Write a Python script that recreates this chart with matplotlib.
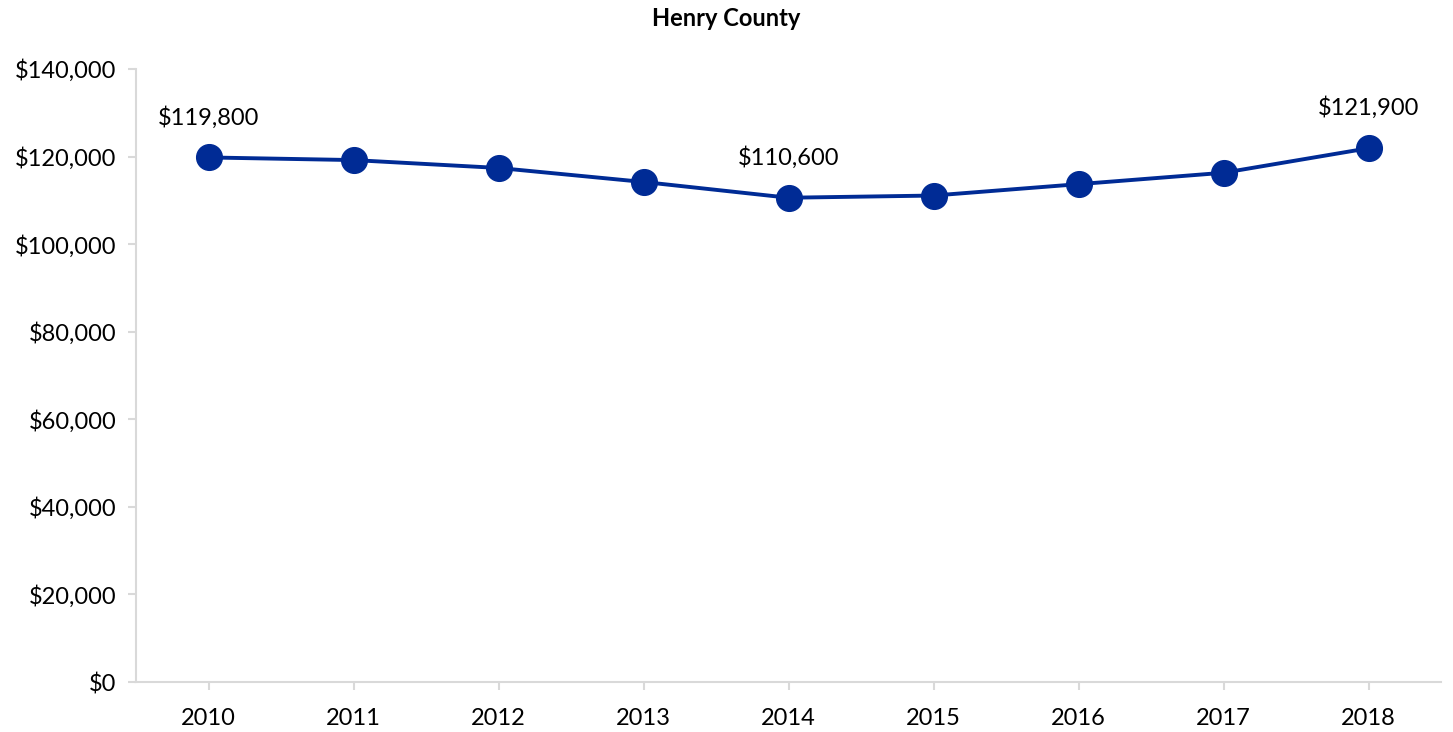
import matplotlib.pyplot as plt
from matplotlib.ticker import FuncFormatter

years = ['2010', '2011', '2012', '2013', '2014', '2015', '2016', '2017', '2018']
values = [119800, 119200, 117400, 114200, 110600, 111100, 113700, 116300, 121900]
labeled = ['2010', '2014', '2018']

line_color = '#002B95'
grid_color = '#D9D9D9'

plt.rcParams['font.family'] = ['Lato', 'DejaVu Sans']

fig = plt.figure(figsize=(14.53, 7.32), dpi=100)
ax = fig.add_axes([136 / 1453, 50 / 732, 1305 / 1453, 613 / 732])

x = range(len(years))
ax.plot(x, values, color=line_color, linewidth=2.8, marker='o', markersize=18.5,
        markerfacecolor=line_color, markeredgecolor=line_color, zorder=3)

for i, (yr, v) in enumerate(zip(years, values)):
    if yr in labeled:
        ax.annotate(f'${v:,}', (i, v), xytext=(0, 29), textcoords='offset points',
                    ha='center', va='center', fontsize=17, color='black')

ax.set_xlim(-0.5, len(years) - 0.5)
ax.set_ylim(0, 140000)
ax.set_xticks(list(x))
ax.set_xticklabels(years)
ax.set_yticks(range(0, 140001, 20000))
ax.yaxis.set_major_formatter(FuncFormatter(lambda v, p: f'${int(v):,}'))

for side in ['top', 'right']:
    ax.spines[side].set_visible(False)
for side in ['left', 'bottom']:
    ax.spines[side].set_color(grid_color)
    ax.spines[side].set_linewidth(1.5)

ax.tick_params(axis='both', colors=grid_color, length=6, width=1.5, labelsize=17,
               labelcolor='black')
ax.tick_params(axis='x', pad=13)
ax.tick_params(axis='y', pad=8)

fig.text(0.5, 1 - 18 / 732, 'Henry County', ha='center', va='center',
         fontsize=17, fontweight='bold')

fig.savefig('out.png', dpi=100)
